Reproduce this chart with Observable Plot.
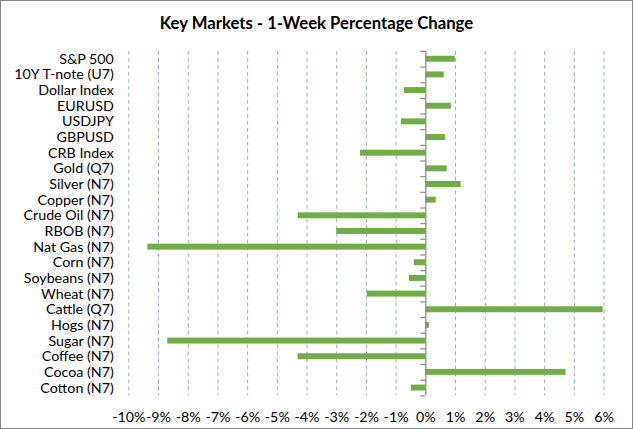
<!DOCTYPE html>
<html><head><meta charset="utf-8">
<script src="https://cdn.jsdelivr.net/npm/d3@7"></script>
<script src="https://cdn.jsdelivr.net/npm/@observablehq/plot@0.6"></script>
<style>
body{margin:0;background:#fff;}
#chart{position:relative;width:633px;height:429px;box-sizing:border-box;border:1px solid #868686;background:#fff;overflow:hidden;}
#title{position:absolute;left:0;right:0;top:12px;text-align:center;font:bold 16.7px Lato, sans-serif;color:#000;}
#plot{position:absolute;left:-1px;top:-1px;}
</style></head><body>
<div id="chart"><div id="plot"></div><div id="title">Key Markets - 1-Week Percentage Change</div></div>
<script>
const markets = ["S&P 500","10Y T-note (U7)","Dollar Index","EURUSD","USDJPY","GBPUSD","CRB Index","Gold (Q7)","Silver (N7)","Copper (N7)","Crude Oil (N7)","RBOB (N7)","Nat Gas (N7)","Corn (N7)","Soybeans (N7)","Wheat (N7)","Cattle (Q7)","Hogs (N7)","Sugar (N7)","Coffee (N7)","Cocoa (N7)","Cotton (N7)"];
const changes = [0.99, 0.62, -0.72, 0.86, -0.82, 0.66, -2.2, 0.72, 1.19, 0.35, -4.3, -3.0, -9.36, -0.39, -0.55, -1.97, 5.97, 0.12, -8.69, -4.3, 4.72, -0.49];
const xTicks = [-10,-9,-8,-7,-6,-5,-4,-3,-2,-1,0,1,2,3,4,5,6];

const W = 633, H = 429, mt = 51, mb = 33;
const step = (H - mt - mb) / markets.length;
const data = markets.map((m, i) => ({market: m, change: changes[i]}));
const axisColor = "#868686";

const chart = Plot.plot({
  width: W, height: H,
  marginLeft: 128.5, marginRight: 28.5, marginTop: mt, marginBottom: mb,
  style: {fontFamily: "Lato, sans-serif", fontSize: "14.3px", color: "#000", background: "transparent", overflow: "visible"},
  x: {domain: [-10, 6], ticks: xTicks, tickFormat: d => `${d}%`, tickSize: 0, tickPadding: 16, label: null},
  y: {domain: markets, paddingInner: 0.62, paddingOuter: 0.31, round: false, tickSize: 0, tickPadding: 15, label: null},
  marks: [
    Plot.ruleX(xTicks.filter(d => d !== 0), {stroke: "#8db4e2", strokeWidth: 1, strokeDasharray: "4,3"}),
    Plot.barX(data, {x: "change", y: "market", fill: "#70ad47"}),
    Plot.ruleX([0], {stroke: axisColor, strokeWidth: 1.2}),
    Plot.ruleY(markets, {y: d => d, x1: -0.17, x2: 0, dy: step / 2, stroke: axisColor, strokeWidth: 1.2}),
    Plot.ruleY([markets[0]], {y: d => d, x1: -0.17, x2: 0, dy: -step / 2, stroke: axisColor, strokeWidth: 1.2})
  ]
});
document.getElementById("plot").appendChild(chart);
</script>
</body></html>
